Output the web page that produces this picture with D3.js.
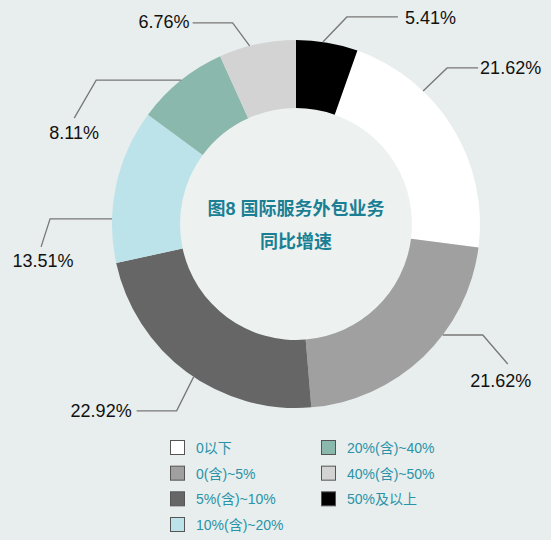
<!DOCTYPE html>
<html>
<head>
<meta charset="utf-8">
<script src="https://cdn.jsdelivr.net/npm/d3@7"></script>
<style>
  html, body { margin: 0; padding: 0; background: #e8eeed; }
  svg { display: block; }
</style>
</head>
<body>
<svg id="chart" width="551" height="540"></svg>
<script>
// ---- data ----
const categories = ["0以下", "0(含)~5%", "5%(含)~10%", "10%(含)~20%", "20%(含)~40%", "40%(含)~50%", "50%及以上"];
const shares = [21.62, 21.62, 22.92, 13.51, 8.11, 6.76, 5.41];
const valueLabels = ["21.62%", "21.62%", "22.92%", "13.51%", "8.11%", "6.76%", "5.41%"];
const titleLines = ["图8 国际服务外包业务", "同比增速"];

// ---- styles / layout ----
const colors = ["#ffffff", "#a0a0a0", "#666666", "#bde3ea", "#8ab8ac", "#d3d3d3", "#000000"];
const cx = 296, cy = 224, outerR = 184, innerR = 116;

// leader line layout per slice: anchor angle (deg, clockwise from top), elbow offset, end offset, text offset/anchor
const leaders = [
  { ang: 43.7,  elbow: [24, -23], end: [31, 0],  text: [2, 0],   anchor: "start" },
  { ang: 127.1, elbow: [40, 0],   end: [25, 29], text: [-7, 17], anchor: "middle" },
  { ang: 213.8, elbow: [-17, 34], end: [-40, 0], text: [-5, 0],  anchor: "end" },
  { ang: 271.6, elbow: [-62, 0],  end: [-9, 28], text: [2, 14],  anchor: "middle" },
  { ang: 321.4, elbow: [-85, 0],  end: [-22, 38],text: [0, 14],  anchor: "middle" },
  { ang: 345.4, elbow: [-17, -23],end: [-40, 0], text: [-3, -1], anchor: "end" },
  { ang: 8.4,   elbow: [24, -25], end: [51, 0],  text: [7, 1],   anchor: "start" }
];

const svg = d3.select("#chart");
svg.append("rect").attr("width", 551).attr("height", 540).attr("fill", "#e8eeed");

const g = svg.append("g").attr("transform", `translate(${cx},${cy})`);

// offset so that the last slice (50%及以上) starts at 12 o'clock
const total = d3.sum(shares);
const offset = shares[shares.length - 1] / total * 2 * Math.PI;

const pie = d3.pie().sort(null).value(d => d)
  .startAngle(offset).endAngle(offset + 2 * Math.PI);
const arcs = pie(shares);
const arc = d3.arc().innerRadius(innerR).outerRadius(outerR);

g.append("circle").attr("r", innerR).attr("fill", "#edf2f1");

g.selectAll("path.slice").data(arcs).enter().append("path")
  .attr("class", "slice")
  .attr("d", arc)
  .attr("fill", (d, i) => colors[i]);

// leader lines and labels
const ann = g.append("g");
arcs.forEach((d, i) => {
  const L = leaders[i];
  const a = L.ang * Math.PI / 180;
  const p0 = [outerR * Math.sin(a), -outerR * Math.cos(a)];
  const p1 = [p0[0] + L.elbow[0], p0[1] + L.elbow[1]];
  const p2 = [p1[0] + L.end[0], p1[1] + L.end[1]];
  ann.append("path")
    .attr("d", d3.line()([p0, p1, p2]))
    .attr("fill", "none")
    .attr("stroke", "#777777")
    .attr("stroke-width", 1.3);
  ann.append("text")
    .attr("x", p2[0] + L.text[0])
    .attr("y", p2[1] + L.text[1])
    .attr("dy", "0.35em")
    .attr("text-anchor", L.anchor)
    .attr("font-family", "'Liberation Sans', Arial, sans-serif")
    .attr("font-size", 18)
    .attr("fill", "#111111")
    .text(valueLabels[i]);
});

// center title
g.selectAll("text.title").data(titleLines).enter().append("text")
  .attr("class", "title")
  .attr("x", 0)
  .attr("y", (d, i) => -15 + i * 33)
  .attr("dy", "0.35em")
  .attr("text-anchor", "middle")
  .attr("font-family", "'Liberation Sans', 'Noto Sans CJK SC', sans-serif")
  .attr("font-weight", "bold")
  .attr("font-size", 18)
  .attr("fill", "#1b7f94")
  .text(d => d);

// legend
const legendCols = [170, 321];
const rowY = d3.scaleLinear().domain([0, 3]).range([448, 525]);
const legend = svg.append("g");
categories.forEach((c, i) => {
  const col = i < 4 ? 0 : 1;
  const row = i < 4 ? i : i - 4;
  const x = legendCols[col], y = rowY(row);
  legend.append("rect")
    .attr("x", x + 0.5).attr("y", y - 7.5)
    .attr("width", 14).attr("height", 14)
    .attr("fill", colors[i])
    .attr("stroke", "#555555")
    .attr("stroke-width", 1);
  legend.append("text")
    .attr("x", x + 26).attr("y", y)
    .attr("dy", "0.35em")
    .attr("font-family", "'Liberation Sans', 'Noto Sans CJK SC', sans-serif")
    .attr("font-size", 14)
    .attr("fill", "#2a93a8")
    .text(c);
});
</script>
</body>
</html>
